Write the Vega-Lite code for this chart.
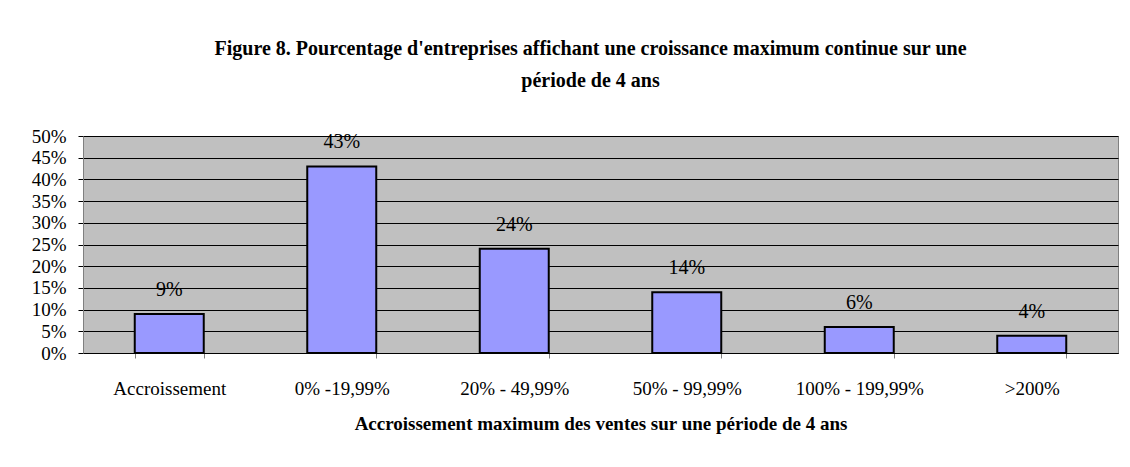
{
  "$schema": "https://vega.github.io/schema/vega-lite/v6.json",
  "width": 1035,
  "height": 217,
  "autosize": {"type": "none"},
  "padding": {"left": 83, "top": 136, "right": 12, "bottom": 114},
  "background": "white",
  "title": {
    "text": ["Figure 8. Pourcentage d'entreprises affichant une croissance maximum continue sur une", "période de 4 ans"],
    "font": "Liberation Serif",
    "fontSize": 20,
    "fontWeight": "bold",
    "color": "black",
    "anchor": "middle",
    "dx": -10,
    "offset": 36,
    "lineHeight": 32
  },
  "data": {
    "values": [
      {"cat": "Accroissement", "v": 0.09, "label": "9%"},
      {"cat": "0% -19,99%", "v": 0.43, "label": "43%"},
      {"cat": "20% - 49,99%", "v": 0.24, "label": "24%"},
      {"cat": "50% - 99,99%", "v": 0.14, "label": "14%"},
      {"cat": "100% - 199,99%", "v": 0.06, "label": "6%"},
      {"cat": ">200%", "v": 0.04, "label": "4%"}
    ]
  },
  "encoding": {
    "x": {
      "field": "cat",
      "type": "nominal",
      "sort": null,
      "scale": {"paddingInner": 0.6, "paddingOuter": 0.3},
      "axis": {
        "title": "Accroissement maximum des ventes sur une période de 4 ans",
        "titleFont": "Liberation Serif",
        "titleFontSize": 19,
        "titleFontWeight": "bold",
        "titleColor": "black",
        "titlePadding": 16,
        "labelAngle": 0,
        "labelFont": "Liberation Serif",
        "labelFontSize": 19,
        "labelColor": "black",
        "labelPadding": 21,
        "tickBand": "extent",
        "tickSize": 5,
        "tickColor": "#808080",
        "domainColor": "black",
        "grid": false
      }
    },
    "y": {
      "field": "v",
      "type": "quantitative",
      "scale": {"domain": [0, 0.5], "nice": false},
      "axis": {
        "title": null,
        "format": ".0%",
        "values": [0, 0.05, 0.1, 0.15, 0.2, 0.25, 0.3, 0.35, 0.4, 0.45, 0.5],
        "labelFont": "Liberation Serif",
        "labelFontSize": 19,
        "labelColor": "black",
        "labelPadding": 12,
        "tickSize": 5,
        "tickColor": "black",
        "domainColor": "#808080",
        "grid": true,
        "gridColor": "black",
        "gridOpacity": 1,
        "gridWidth": 1
      }
    }
  },
  "layer": [
    {
      "mark": {"type": "bar", "fill": "#9999FF", "stroke": "black", "strokeWidth": 2}
    },
    {
      "mark": {"type": "text", "font": "Liberation Serif", "fontSize": 20, "color": "black", "baseline": "bottom", "dy": -14},
      "encoding": {"text": {"field": "label"}}
    }
  ],
  "config": {
    "view": {"fill": "#C0C0C0", "stroke": "#808080", "strokeWidth": 1}
  }
}
